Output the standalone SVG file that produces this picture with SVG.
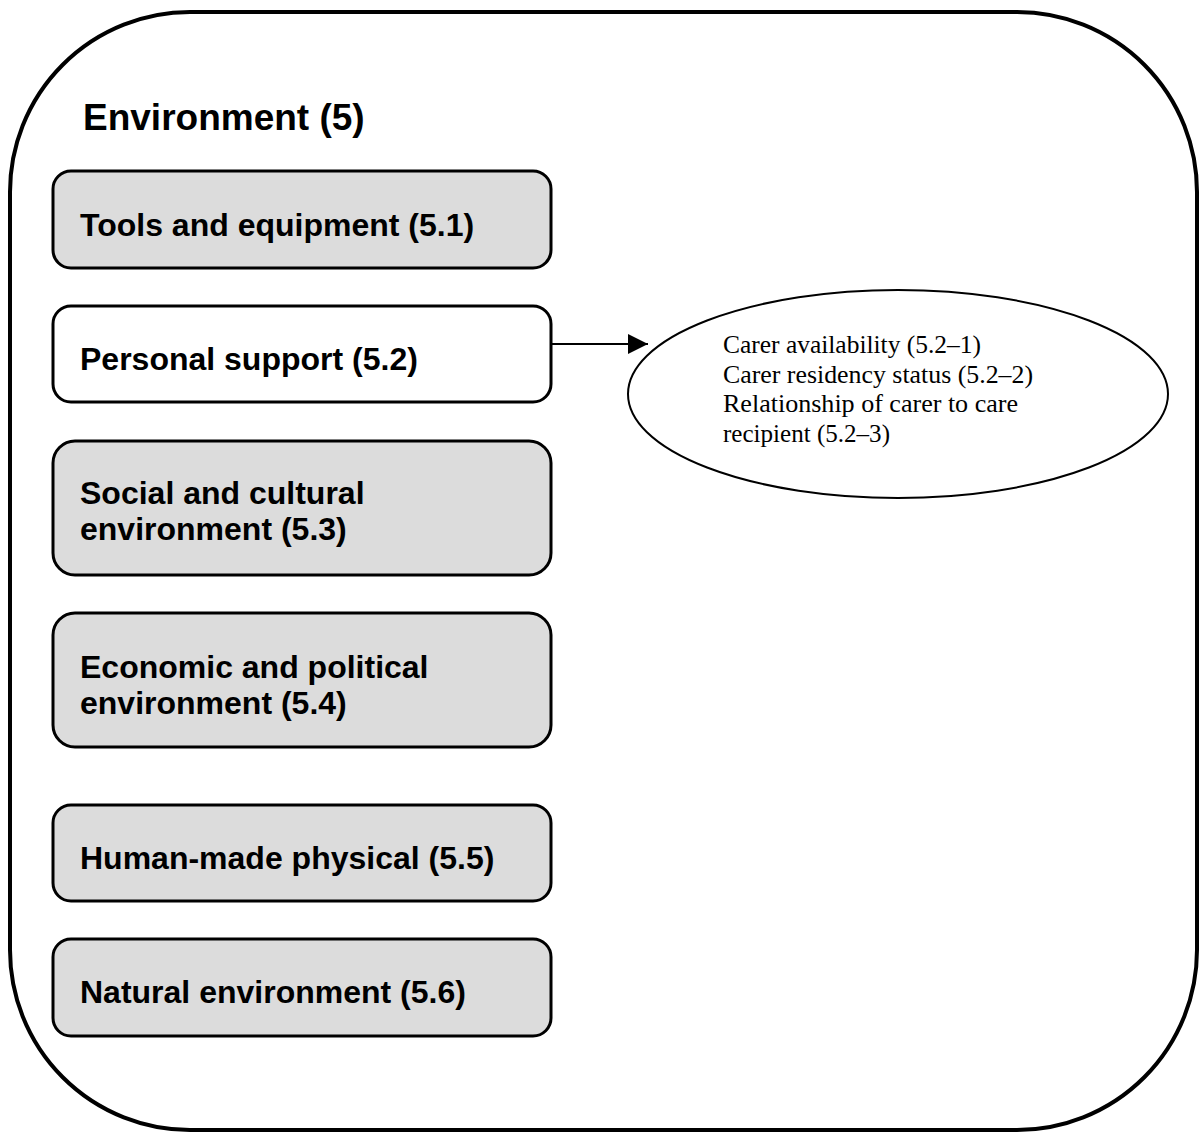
<svg xmlns="http://www.w3.org/2000/svg" width="1201" height="1133" viewBox="0 0 1201 1133">
<style>
.box{fill:#dcdcdc;stroke:#000;stroke-width:3}
.wbox{fill:#fff;stroke:#000;stroke-width:3}
.lbl{font-family:"Liberation Sans",Arial,sans-serif;font-weight:bold;font-size:32px;fill:#000}
.sub{font-family:"Liberation Serif","Times New Roman",serif;font-size:25px;fill:#000}
</style>
<defs>
<marker id="ah" markerWidth="20" markerHeight="20" refX="20" refY="10" orient="auto" markerUnits="userSpaceOnUse">
<polygon points="0,0 20,10 0,20" fill="#000"/>
</marker>
</defs>
<rect x="10" y="12" width="1187" height="1118" rx="180" ry="180" fill="#fff" stroke="#000" stroke-width="4"/>
<text x="83" y="130" font-family="Liberation Sans, Arial, sans-serif" font-weight="bold" font-size="37">Environment (5)</text>
<g id="connectors">
<line x1="552" y1="344" x2="648" y2="344" stroke="#000" stroke-width="2" marker-end="url(#ah)"/>
</g>
<g id="n51">
<rect class="box" x="53" y="171" width="498" height="97" rx="18"/>
<text class="lbl" x="80" y="236">Tools and equipment (5.1)</text>
</g>
<g id="n52">
<rect class="wbox" x="53" y="306" width="498" height="96" rx="18"/>
<text class="lbl" x="80" y="370">Personal support (5.2)</text>
</g>
<g id="n53">
<rect class="box" x="53" y="441" width="498" height="134" rx="22"/>
<text class="lbl" x="80" y="504">Social and cultural</text>
<text class="lbl" x="80" y="540">environment (5.3)</text>
</g>
<g id="n54">
<rect class="box" x="53" y="613" width="498" height="134" rx="22"/>
<text class="lbl" x="80" y="678">Economic and political</text>
<text class="lbl" x="80" y="714">environment (5.4)</text>
</g>
<g id="n55">
<rect class="box" x="53" y="805" width="498" height="96" rx="18"/>
<text class="lbl" x="80" y="869">Human-made physical (5.5)</text>
</g>
<g id="n56">
<rect class="box" x="53" y="939" width="498" height="97" rx="18"/>
<text class="lbl" x="80" y="1003">Natural environment (5.6)</text>
</g>
<g id="n52detail">
<ellipse cx="898" cy="394" rx="270" ry="104" fill="#fff" stroke="#000" stroke-width="2"/>
<text class="sub" x="723" y="353" textLength="258" lengthAdjust="spacingAndGlyphs">Carer availability (5.2–1)</text>
<text class="sub" x="723" y="383" textLength="310" lengthAdjust="spacingAndGlyphs">Carer residency status (5.2–2)</text>
<text class="sub" x="723" y="412" textLength="295" lengthAdjust="spacingAndGlyphs">Relationship of carer to care</text>
<text class="sub" x="723" y="442" textLength="167" lengthAdjust="spacingAndGlyphs">recipient (5.2–3)</text>
</g>
</svg>
